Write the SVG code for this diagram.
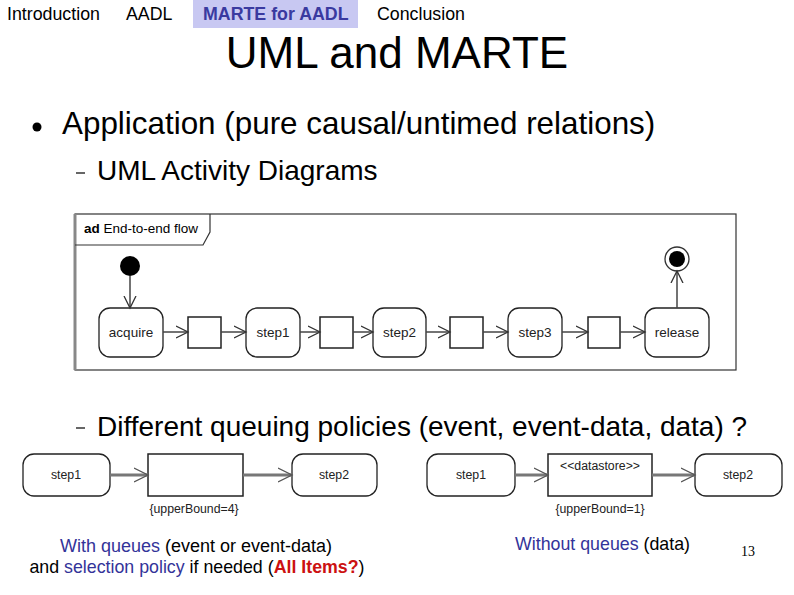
<svg xmlns="http://www.w3.org/2000/svg" width="794" height="595" viewBox="0 0 794 595">
<defs>
<style>
text{font-family:"Liberation Sans",Arial,sans-serif;fill:#000}
.nav{font-size:17.8px}
.node{fill:#fff;stroke:#222;stroke-width:1.3}
.box{fill:#fff;stroke:#222;stroke-width:1.5}
.lbl{font-size:13.5px;text-anchor:middle;fill:#222}
.slbl{font-size:12.3px;text-anchor:middle;fill:#222}
.e1{stroke:#444;stroke-width:1.5;fill:none;marker-end:url(#a1)}
.e2{stroke:#777;stroke-width:3;fill:none;marker-end:url(#a2)}
.blue{fill:#333399}
.red{fill:#cc1111;font-weight:bold}
</style>
<marker id="a1" markerUnits="userSpaceOnUse" markerWidth="14" markerHeight="14" refX="12" refY="6" orient="auto" viewBox="0 0 14 12">
<path d="M0,0 L12,6 L0,12" fill="none" stroke="#333" stroke-width="1.3"/>
</marker>
<marker id="a2" markerUnits="userSpaceOnUse" markerWidth="16" markerHeight="16" refX="14" refY="7" orient="auto" viewBox="0 0 16 14">
<path d="M0,0 L14,7 L0,14" fill="none" stroke="#555" stroke-width="1.3"/>
</marker>
</defs>
<rect width="794" height="595" fill="#fff"/>

<g id="header">
<text class="nav" x="7" y="20">Introduction</text>
<text class="nav" x="126" y="20">AADL</text>
<rect x="193" y="0" width="165" height="28" fill="#c8c8f2"/>
<text class="nav" x="203" y="20" font-weight="bold" style="fill:#3a3aa0">MARTE for AADL</text>
<text class="nav" x="377" y="20">Conclusion</text>
</g>

<g id="title">
<text x="397" y="68" font-size="44" text-anchor="middle">UML and MARTE</text>
</g>

<g id="bullets">
<circle cx="37" cy="127" r="4.5" fill="#000"/>
<text x="62" y="134" font-size="31.4">Application (pure causal/untimed relations)</text>
<line x1="76" y1="173" x2="85" y2="173" stroke="#000" stroke-width="1.2"/>
<text x="97" y="180" font-size="28">UML Activity Diagrams</text>
<line x1="76" y1="428" x2="85" y2="428" stroke="#000" stroke-width="1.2"/>
<text x="97" y="436" font-size="28">Different queuing policies (event, event-data, data) ?</text>
</g>

<g id="frame">
<rect x="75" y="214" width="661" height="156" fill="#fff" stroke="#333" stroke-width="1.2"/>
<line x1="75" y1="214" x2="75" y2="370" stroke="#888" stroke-width="3"/>
<path d="M75,245 L203,245 L210,232 L210,214" fill="none" stroke="#333" stroke-width="1.2"/>
<text x="84" y="233" font-size="13.5" fill="#222"><tspan font-weight="bold">ad</tspan> End-to-end flow</text>
</g>

<g id="initial"><circle cx="130" cy="266" r="10" fill="#000"/></g>
<g id="final"><circle cx="677" cy="259" r="12" fill="#fff" stroke="#333" stroke-width="1.3"/><circle cx="677" cy="259" r="8" fill="#000"/></g>

<g id="acquire"><rect class="node" x="99" y="308" width="64" height="49" rx="11"/><text class="lbl" x="131" y="337">acquire</text></g>
<g id="buf1"><rect class="box" x="188" y="317" width="33" height="31"/></g>
<g id="step1"><rect class="node" x="246" y="308" width="54" height="49" rx="11"/><text class="lbl" x="273" y="337">step1</text></g>
<g id="buf2"><rect class="box" x="320" y="317" width="33" height="31"/></g>
<g id="step2"><rect class="node" x="373" y="308" width="53" height="49" rx="11"/><text class="lbl" x="399.5" y="337">step2</text></g>
<g id="buf3"><rect class="box" x="450" y="317" width="33" height="31"/></g>
<g id="step3"><rect class="node" x="508" y="308" width="54" height="49" rx="11"/><text class="lbl" x="535" y="337">step3</text></g>
<g id="buf4"><rect class="box" x="588" y="317" width="32" height="31"/></g>
<g id="release"><rect class="node" x="645" y="308" width="64" height="49" rx="11"/><text class="lbl" x="677" y="337">release</text></g>

<g id="q-step1"><rect class="node" x="23" y="454" width="87" height="42" rx="11"/><text class="slbl" x="66" y="479">step1</text></g>
<g id="q-buf"><rect class="box" x="148" y="454" width="95" height="42"/><text class="slbl" x="194" y="513">{upperBound=4}</text></g>
<g id="q-step2"><rect class="node" x="292" y="454" width="85" height="42" rx="11"/><text class="slbl" x="334" y="479">step2</text></g>

<g id="d-step1"><rect class="node" x="427" y="454" width="88" height="42" rx="11"/><text class="slbl" x="471" y="479">step1</text></g>
<g id="d-store"><rect class="box" x="548" y="454" width="104" height="42"/><text class="slbl" x="600" y="470">&lt;&lt;datastore&gt;&gt;</text><text class="slbl" x="600" y="513">{upperBound=1}</text></g>
<g id="d-step2"><rect class="node" x="695" y="454" width="87" height="42" rx="11"/><text class="slbl" x="738" y="479">step2</text></g>

<g id="connectors">
<line class="e1" x1="130" y1="276" x2="130" y2="308"/>
<line class="e1" x1="163" y1="332" x2="188" y2="332"/>
<line class="e1" x1="221" y1="332" x2="246" y2="332"/>
<line class="e1" x1="300" y1="332" x2="320" y2="332"/>
<line class="e1" x1="353" y1="332" x2="373" y2="332"/>
<line class="e1" x1="426" y1="332" x2="450" y2="332"/>
<line class="e1" x1="483" y1="332" x2="508" y2="332"/>
<line class="e1" x1="562" y1="332" x2="588" y2="332"/>
<line class="e1" x1="620" y1="332" x2="645" y2="332"/>
<line class="e1" x1="677" y1="308" x2="677" y2="271"/>
<line class="e2" x1="110" y1="475" x2="148" y2="475"/>
<line class="e2" x1="243" y1="475" x2="292" y2="475"/>
<line class="e2" x1="515" y1="475" x2="548" y2="475"/>
<line class="e2" x1="652" y1="475" x2="695" y2="475"/>
</g>

<g id="notes">
<text x="196" y="552" font-size="18" text-anchor="middle"><tspan class="blue">With queues</tspan> (event or event-data)</text>
<text x="197" y="573" font-size="17.8" text-anchor="middle">and <tspan class="blue">selection policy</tspan> if needed (<tspan class="red">All Items?</tspan>)</text>
<text x="515" y="550" font-size="17.8"><tspan class="blue">Without queues</tspan> (data)</text>
<text x="741" y="556" font-size="14" style="font-family:'Liberation Serif',serif">13</text>
</g>
</svg>
